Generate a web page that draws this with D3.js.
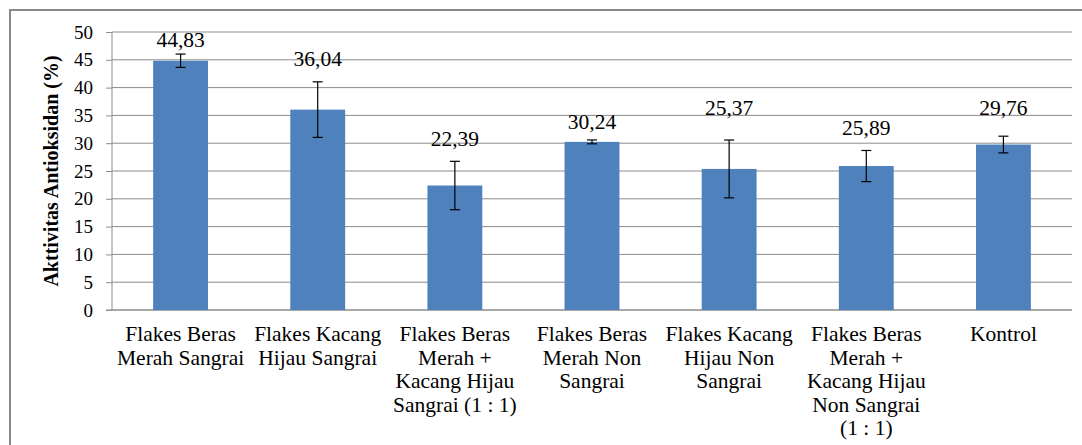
<!DOCTYPE html>
<html>
<head>
<meta charset="utf-8">
<script src="https://cdn.jsdelivr.net/npm/d3@7"></script>
<style>
  body { margin: 0; background: #fff; }
  svg text { font-family: "Liberation Serif", "Times New Roman", serif; fill: #000; }
</style>
</head>
<body>
<script>
// data
var categories = [
  ["Flakes Beras", "Merah Sangrai"],
  ["Flakes Kacang", "Hijau Sangrai"],
  ["Flakes Beras", "Merah +", "Kacang Hijau", "Sangrai (1 : 1)"],
  ["Flakes Beras", "Merah Non", "Sangrai"],
  ["Flakes Kacang", "Hijau Non", "Sangrai"],
  ["Flakes Beras", "Merah +", "Kacang Hijau", "Non Sangrai", "(1 : 1)"],
  ["Kontrol"]
];
var values = [44.83, 36.04, 22.39, 30.24, 25.37, 25.89, 29.76];
var errors = [1.2, 5.0, 4.35, 0.35, 5.2, 2.8, 1.5];
var valueLabels = ["44,83", "36,04", "22,39", "30,24", "25,37", "25,89", "29,76"];
var yTicks = [0, 5, 10, 15, 20, 25, 30, 35, 40, 45, 50];

// layout
var W = 1082, H = 445;
var margin = {top: 32, left: 112};
var width = 960, height = 278;
var serif = "'Liberation Serif', 'Times New Roman', serif";
// labels sit by hand above the bars in the original (px above bar top)
var labelLift = [14, 44, 40, 13, 54, 31, 30];

var svg = d3.select("body").append("svg")
    .attr("width", W)
    .attr("height", H);

// outer frame
svg.append("rect")
    .attr("x", 10).attr("y", 10)
    .attr("width", W + 20).attr("height", H + 20)
    .attr("fill", "none")
    .attr("stroke", "#888")
    .attr("stroke-width", 2);

var g = svg.append("g")
    .attr("transform", "translate(" + margin.left + "," + margin.top + ")");

var x = d3.scaleBand()
    .domain(d3.range(values.length))
    .range([0, width])
    .paddingInner(0.6)
    .paddingOuter(0.3);

var y = d3.scaleLinear().domain([0, 50]).range([height, 0]);

// gridlines
g.selectAll(".grid")
    .data(yTicks)
  .enter().append("line")
    .attr("class", "grid")
    .attr("x1", 0).attr("x2", width)
    .attr("y1", function(d) { return y(d); })
    .attr("y2", function(d) { return y(d); })
    .attr("stroke", "#8c8c8c")
    .attr("stroke-width", 1);

// y axis
var yAxis = g.append("g")
    .call(d3.axisLeft(y).tickValues(yTicks).tickSize(6).tickPadding(13));
yAxis.select(".domain").attr("stroke", "#8c8c8c").attr("d", "M0,0V" + height);
yAxis.selectAll(".tick line").attr("stroke", "#8c8c8c");
yAxis.attr("font-family", serif).attr("font-size", 19);
yAxis.selectAll(".tick text").attr("fill", "#000");

// x axis line
g.append("line")
    .attr("x1", -6).attr("x2", width)
    .attr("y1", height).attr("y2", height)
    .attr("stroke", "#8c8c8c");

// bars
g.selectAll(".bar")
    .data(values)
  .enter().append("rect")
    .attr("class", "bar")
    .attr("x", function(d, i) { return x(i); })
    .attr("y", function(d) { return y(d); })
    .attr("width", x.bandwidth())
    .attr("height", function(d) { return height - y(d); })
    .attr("fill", "#4f81bd");

// error bars
var err = g.selectAll(".err")
    .data(values)
  .enter().append("g")
    .attr("class", "err")
    .attr("transform", function(d, i) { return "translate(" + (x(i) + x.bandwidth() / 2) + ",0)"; });

err.append("line")
    .attr("y1", function(d, i) { return y(d + errors[i]); })
    .attr("y2", function(d, i) { return y(d - errors[i]); })
    .attr("stroke", "#000").attr("stroke-width", 1.2);
err.append("line")
    .attr("x1", -5).attr("x2", 5)
    .attr("y1", function(d, i) { return y(d + errors[i]); })
    .attr("y2", function(d, i) { return y(d + errors[i]); })
    .attr("stroke", "#000").attr("stroke-width", 1.2);
err.append("line")
    .attr("x1", -5).attr("x2", 5)
    .attr("y1", function(d, i) { return y(d - errors[i]); })
    .attr("y2", function(d, i) { return y(d - errors[i]); })
    .attr("stroke", "#000").attr("stroke-width", 1.2);

// value labels
g.selectAll(".val")
    .data(values)
  .enter().append("text")
    .attr("class", "val")
    .attr("x", function(d, i) { return x(i) + x.bandwidth() / 2; })
    .attr("y", function(d, i) { return y(d) - labelLift[i]; })
    .attr("text-anchor", "middle")
    .attr("font-family", serif)
    .attr("font-size", 21.5)
    .text(function(d, i) { return valueLabels[i]; });

// category labels
var cat = g.selectAll(".cat")
    .data(categories)
  .enter().append("text")
    .attr("class", "cat")
    .attr("text-anchor", "middle")
    .attr("font-family", serif)
    .attr("font-size", 21.5)
    .attr("transform", function(d, i) { return "translate(" + (x(i) + x.bandwidth() / 2) + "," + (height + 31) + ")"; });

cat.selectAll("tspan")
    .data(function(d) { return d; })
  .enter().append("tspan")
    .attr("x", 0)
    .attr("y", function(d, j) { return j * 23.5; })
    .text(function(d) { return d; });

// y axis title
g.append("text")
    .attr("transform", "translate(-54," + (height / 2) + ")rotate(-90)")
    .attr("text-anchor", "middle")
    .attr("font-family", serif)
    .attr("font-size", 20)
    .attr("font-weight", "bold")
    .text("Akttivitas Antioksidan (%)");
</script>
</body>
</html>
